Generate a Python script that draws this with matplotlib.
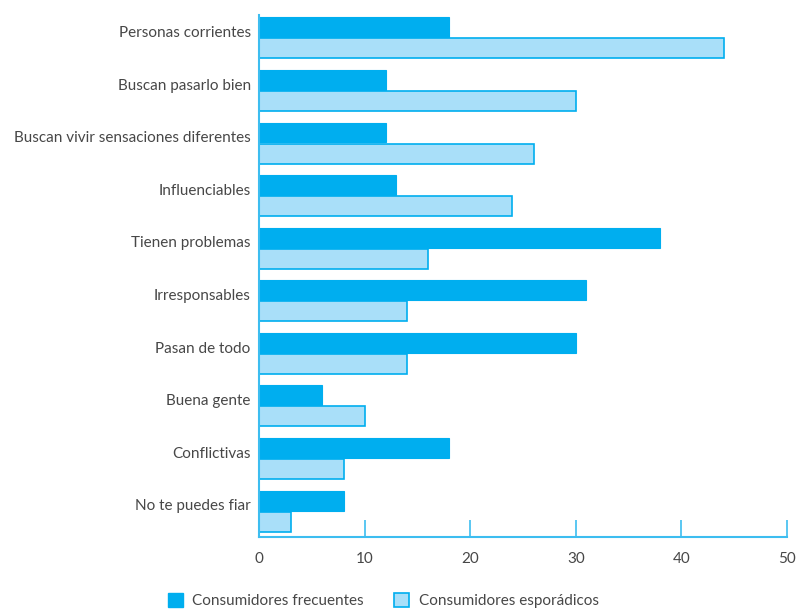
import matplotlib.pyplot as plt
import numpy as np
from matplotlib.patches import Patch

plt.rcParams['font.family'] = ['Lato', 'DejaVu Sans']

categorias = ['Personas corrientes', 'Buscan pasarlo bien', 'Buscan vivir sensaciones diferentes',
              'Influenciables', 'Tienen problemas', 'Irresponsables', 'Pasan de todo',
              'Buena gente', 'Conflictivas', 'No te puedes fiar']
frecuentes = [18, 12, 12, 13, 38, 31, 30, 6, 18, 8]
esporadicos = [44, 30, 26, 24, 16, 14, 14, 10, 8, 3]
xticks = [0, 10, 20, 30, 40, 50]

azul = '#00AEEF'
celeste = '#A9DFF9'
eje = '#3DBDF0'
texto = '#474747'

fig = plt.figure(figsize=(7.97, 6.10), dpi=100)
ax = fig.add_axes([0.325, 0.12, 0.6625, 0.855])

y = np.arange(len(categorias))
h = 0.38
ax.barh(y - h / 2 - 0.01, frecuentes, height=h, color=azul, edgecolor=azul, linewidth=0.8)
ax.barh(y + h / 2 + 0.01, esporadicos, height=h, color=celeste, edgecolor=azul, linewidth=1.2)

ax.set_xlim(0, 50)
ax.set_ylim(9.49, -0.43)
ax.set_xticks(xticks)
ax.set_xticklabels([str(t) for t in xticks], fontsize=11, color=texto)
ax.set_yticks(y - 0.12)
ax.set_yticklabels(categorias, fontsize=11, color=texto)

ax.tick_params(axis='y', length=0, pad=6)
ax.tick_params(axis='x', direction='in', length=12, width=1.2, color=eje, pad=11)
for s in ['top', 'right']:
    ax.spines[s].set_visible(False)
for s in ['left', 'bottom']:
    ax.spines[s].set_color(eje)
    ax.spines[s].set_linewidth(1.5)

handles = [Patch(facecolor=azul, edgecolor=azul),
           Patch(facecolor=celeste, edgecolor=azul, linewidth=1.2)]
fig.legend(handles, ['Consumidores frecuentes', 'Consumidores esporádicos'],
           loc='lower left', bbox_to_anchor=(0.193, -0.02), ncol=2, frameon=False,
           fontsize=11, labelcolor=texto, handlelength=1.0, handleheight=1.0,
           handletextpad=0.6, columnspacing=2.0)

fig.savefig('out.png', dpi=100)
